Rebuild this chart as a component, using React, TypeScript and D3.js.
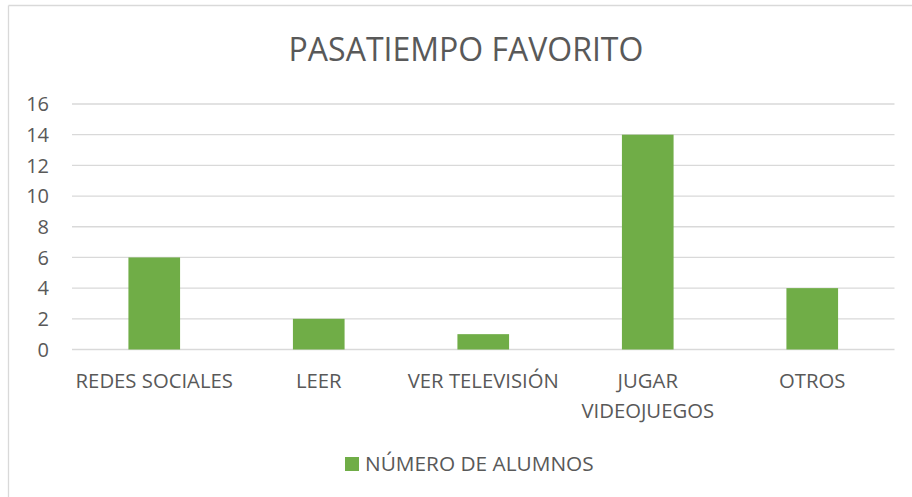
import React from "react";
import * as d3 from "d3";

const categories: string[][] = [
  ["REDES SOCIALES"],
  ["LEER"],
  ["VER TELEVISIÓN"],
  ["JUGAR", "VIDEOJUEGOS"],
  ["OTROS"],
];
const values: number[] = [6, 2, 1, 14, 4];
const yTicks: number[] = [0, 2, 4, 6, 8, 10, 12, 14, 16];
const title = "PASATIEMPO FAVORITO";
const seriesName = "NÚMERO DE ALUMNOS";

const W = 912;
const H = 497;
const FONT = "'Open Sans', sans-serif";
const TEXT = "#595959";
const GRID = "#D9D9D9";
const GREEN = "#70AD47";

export default function App() {
  const plotLeft = 72;
  const plotRight = 894.5;
  const plotTop = 104;
  const plotBottom = 349.5;

  const x = d3
    .scaleBand<number>()
    .domain(d3.range(categories.length))
    .range([plotLeft, plotRight])
    .paddingInner(0.686)
    .paddingOuter(0.343);
  const y = d3.scaleLinear().domain([0, 16]).range([plotBottom, plotTop]);

  return (
    <svg
      width={W}
      height={H}
      style={{ position: "absolute", left: 0, top: 0, background: "#fff" }}
      fontFamily={FONT}
    >
      {/* chart frame */}
      <line x1={8.5} y1={5.5} x2={W} y2={5.5} stroke={GRID} strokeWidth={1.3} />
      <line x1={8.5} y1={5.5} x2={8.5} y2={H} stroke={GRID} strokeWidth={1.3} />

      <text x={466} y={61} textAnchor="middle" fontSize={32} fill={TEXT}>
        {title}
      </text>

      {yTicks.map((t) => (
        <g key={t}>
          <line
            x1={plotLeft}
            x2={plotRight}
            y1={y(t)}
            y2={y(t)}
            stroke={GRID}
            strokeWidth={1.3}
          />
          <text
            x={49}
            y={y(t)}
            dy="0.36em"
            textAnchor="end"
            fontSize={20}
            fill={TEXT}
          >
            {t}
          </text>
        </g>
      ))}

      {values.map((v, i) => (
        <rect
          key={i}
          x={x(i)}
          y={y(v)}
          width={x.bandwidth()}
          height={y(0) - y(v)}
          fill={GREEN}
        />
      ))}

      {categories.map((lines, i) => {
        const cx = (x(i) as number) + x.bandwidth() / 2;
        return (
          <text key={i} textAnchor="middle" fontSize={20.3} fill={TEXT}>
            {lines.map((l, j) => (
              <tspan key={j} x={cx} y={388 + j * 30}>
                {l}
              </tspan>
            ))}
          </text>
        );
      })}

      <rect x={345} y={457} width={14} height={14} fill={GREEN} />
      <text x={365} y={471} fontSize={20.8} fill={TEXT}>
        {seriesName}
      </text>
    </svg>
  );
}
